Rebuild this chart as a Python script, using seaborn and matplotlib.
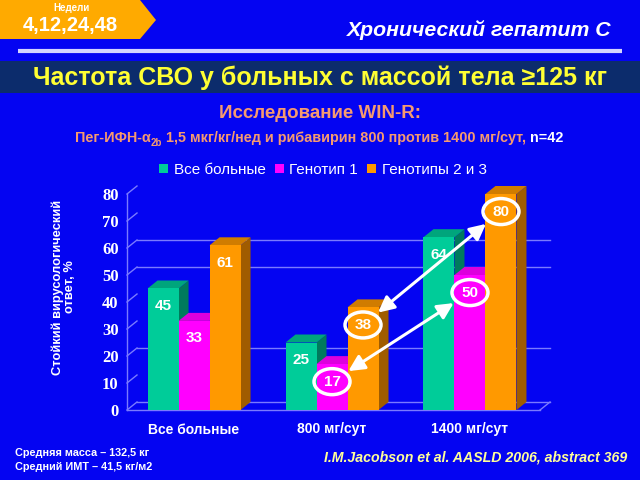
import numpy as np
import pandas as pd
import seaborn as sns
import matplotlib
matplotlib.use("Agg")
import matplotlib.pyplot as plt
from matplotlib.patches import Polygon, Rectangle, Ellipse

# ---------------- data ----------------
categories = ["Все больные", "800 мг/сут", "1400 мг/сут"]
series = ["Все больные", "Генотип 1", "Генотипы 2 и 3"]
all_patients = [45, 25, 64]
genotype_1 = [33, 17, 50]
genotypes_2_3 = [61, 38, 80]
y_ticks = [0, 10, 20, 30, 40, 50, 60, 70, 80]
gridline_values = [20, 50, 60]
circled = [(1, 1), (1, 2), (2, 1), (2, 2)]          # (category, series)
arrow_pairs = [((1, 1), (2, 1)), ((1, 2), (2, 2))]

values = [all_patients, genotype_1, genotypes_2_3]
df = pd.DataFrame({
    "category": [c for s in series for c in categories],
    "series": [s for s in series for c in categories],
    "value": [v for vals in values for v in vals],
})

# ---------------- style ----------------
BG = "#0404F2"
BAND = "#0C2C6C"
TAG = "#FFAA00"
YELLOW = "#FFFF33"
SALMON = "#F59A70"
GRID = "#7A7AFF"
front_cols = ["#00CC99", "#FF00FF", "#FF9900"]
side_cols = ["#007A5C", "#B000B0", "#A05C00"]
top_cols = ["#00A57C", "#DD00DD", "#D07C00"]

plt.rcParams["font.family"] = ["Liberation Sans", "DejaVu Sans"]

fig = plt.figure(figsize=(6.4, 4.8), dpi=100, facecolor=BG)

# overlay in pixel coordinates for slide decorations
ov = fig.add_axes([0, 0, 1, 1], zorder=0)
ov.set_xlim(0, 640)
ov.set_ylim(480, 0)
ov.axis("off")
ov.add_patch(Polygon([(0, 0), (140, 0), (156, 20), (140, 39), (0, 39)],
                     closed=True, fc=TAG, ec="none"))
ov.text(71, 8, "Недели", color="white", fontsize=7, fontweight="bold",
        ha="center", va="center")
ov.text(70, 26, "4,12,24,48", color="white", fontsize=14.5, fontweight="bold",
        ha="center", va="center")
ov.text(612, 30, "Хронический гепатит С", color="white", fontsize=15.3,
        fontweight="bold", style="italic", ha="right", va="center")
ov.plot([18, 622], [51, 51], color="#D4D4FF", lw=3, solid_capstyle="butt")
ov.add_patch(Rectangle((0, 61), 640, 32, fc=BAND, ec="none"))
ov.text(320, 78, "Частота СВО у больных с массой тела ≥125 кг", color=YELLOW,
        fontsize=18, fontweight="bold", ha="center", va="center")
ov.text(320, 113, "Исследование WIN-R:", color=SALMON, fontsize=13.5,
        fontweight="bold", ha="center", va="center")

t1 = ov.text(75, 145, "Пег-ИФН-α", color=SALMON, fontsize=10.4,
             fontweight="bold", ha="left", va="bottom")
t2 = ov.annotate("2b", xy=(1, 0), xycoords=t1, xytext=(0, -2),
                 textcoords="offset points", color=SALMON, fontsize=7,
                 fontweight="bold", ha="left", va="bottom")
t3 = ov.annotate(" 1,5 мкг/кг/нед и рибавирин 800 против 1400 мг/сут, ",
                 xy=(1, 0), xycoords=(t2, t1), color=SALMON, fontsize=10.4,
                 fontweight="bold", ha="left", va="bottom")
ov.annotate("n=42", xy=(1, 0), xycoords=t3, color="white", fontsize=10.4,
            fontweight="bold", ha="left", va="bottom")

ov.text(64, 287, "Стойкий вирусологический\nответ, %", color="white",
        fontsize=9.3, fontweight="bold", rotation=90, ha="center",
        va="center", multialignment="center", linespacing=1.0)
ov.text(15, 453, "Средняя масса – 132,5 кг", color="white", fontsize=7.8,
        fontweight="bold", ha="left", va="center")
ov.text(15, 467, "Средний ИМТ – 41,5 кг/м2", color="white", fontsize=7.8,
        fontweight="bold", ha="left", va="center")
ov.text(627, 457, "I.M.Jacobson et al. AASLD 2006, abstract 369",
        color="#FFFF99", fontsize=10.2, fontweight="bold", style="italic",
        ha="right", va="center")

# ---------------- main chart ----------------
ax = fig.add_axes([127 / 640, 1 - 410 / 480, 423 / 640, 216 / 480], zorder=1)
ax.set_facecolor("none")
sns.barplot(data=df, x="category", y="value", hue="series",
            order=categories, hue_order=series, palette=front_cols,
            saturation=1, width=0.674, linewidth=0, edgecolor="none",
            errorbar=None, ax=ax)

XMIN, XMAX = -0.486, 2.58
ax.set_xlim(XMIN, XMAX)
ax.set_ylim(0, 80)
DX = 10 / 138.0
DY = 8 / 2.7

for s in ax.spines.values():
    s.set_visible(False)

# back-plane gridlines and walls
for v in gridline_values:
    ax.plot([XMIN + DX, XMAX], [v + DY, v + DY], color=GRID, lw=1, zorder=1,
            clip_on=False)
ax.plot([XMIN + DX, XMAX], [DY, DY], color=GRID, lw=1, zorder=1, clip_on=False)
ax.plot([XMIN, XMAX - DX], [0, 0], color=GRID, lw=1, zorder=1, clip_on=False)
ax.plot([XMAX - DX, XMAX], [0, DY], color=GRID, lw=1, zorder=1, clip_on=False)
ax.plot([XMIN, XMIN], [0, 80], color=GRID, lw=1, zorder=1, clip_on=False)
for v in y_ticks:
    ax.plot([XMIN, XMIN + DX], [v, v + DY], color=GRID, lw=1, zorder=1,
            clip_on=False)

# 3D sides / tops and value labels
bars = []
for j, cont in enumerate(ax.containers):
    for i, p in enumerate(cont.patches):
        bars.append((p.get_x(), j, i, p))
bars.sort(key=lambda b: b[0])
label_pos = {}
for k, (x0, j, i, p) in enumerate(bars):
    w = p.get_width()
    h = p.get_height()
    z = 2 + k * 0.1
    side = Polygon([(x0 + w, 0), (x0 + w + DX, DY), (x0 + w + DX, h + DY),
                    (x0 + w, h)], closed=True, fc=side_cols[j], ec="none",
                   zorder=z, clip_on=False)
    top = Polygon([(x0, h), (x0 + DX, h + DY), (x0 + w + DX, h + DY),
                   (x0 + w, h)], closed=True, fc=top_cols[j], ec="none",
                  zorder=z, clip_on=False)
    ax.add_patch(side)
    ax.add_patch(top)
    p.set_zorder(z + 0.05)
    p.set_clip_on(False)
    cx, cy = x0 + w / 2, h - 6.5
    label_pos[(i, j)] = (cx, cy)
    ax.text(cx, cy, f"{values[j][i]}", color="white", fontsize=11,
            fontweight="bold", ha="center", va="center", zorder=5)

for key in circled:
    cx, cy = label_pos[key]
    ax.add_patch(Ellipse((cx, cy), width=36 / 138.0, height=26 / 2.7,
                         fill=False, ec="white", lw=2.5, zorder=6))
for a, b in arrow_pairs:
    ax.annotate("", xy=label_pos[b], xytext=label_pos[a],
                arrowprops=dict(arrowstyle="<|-|>,head_length=0.8,head_width=0.4",
                                color="white", lw=2.2, shrinkA=14, shrinkB=14,
                                mutation_scale=12),
                zorder=6)

ax.set_yticks(y_ticks)
ax.set_yticklabels([str(v) for v in y_ticks], fontfamily="Liberation Serif",
                   fontweight="bold", fontsize=12, color="white")
ax.tick_params(axis="y", length=0, pad=6)
ax.tick_params(axis="x", length=0, pad=9)
for lbl in ax.get_xticklabels():
    lbl.set_color("white")
    lbl.set_fontweight("bold")
    lbl.set_fontsize(10)
ax.set_xlabel("")
ax.set_ylabel("")

handles, labels = ax.get_legend_handles_labels()
if ax.get_legend() is not None:
    ax.get_legend().remove()
ax.legend(handles, labels, loc="center", bbox_to_anchor=(323 / 640, 1 - 170 / 480),
          bbox_transform=fig.transFigure, ncol=3, frameon=False, fontsize=11,
          labelcolor="white", handlelength=0.6, handleheight=0.6,
          handletextpad=0.35, columnspacing=0.6)

fig.savefig("out.png", dpi=100, facecolor=BG)
